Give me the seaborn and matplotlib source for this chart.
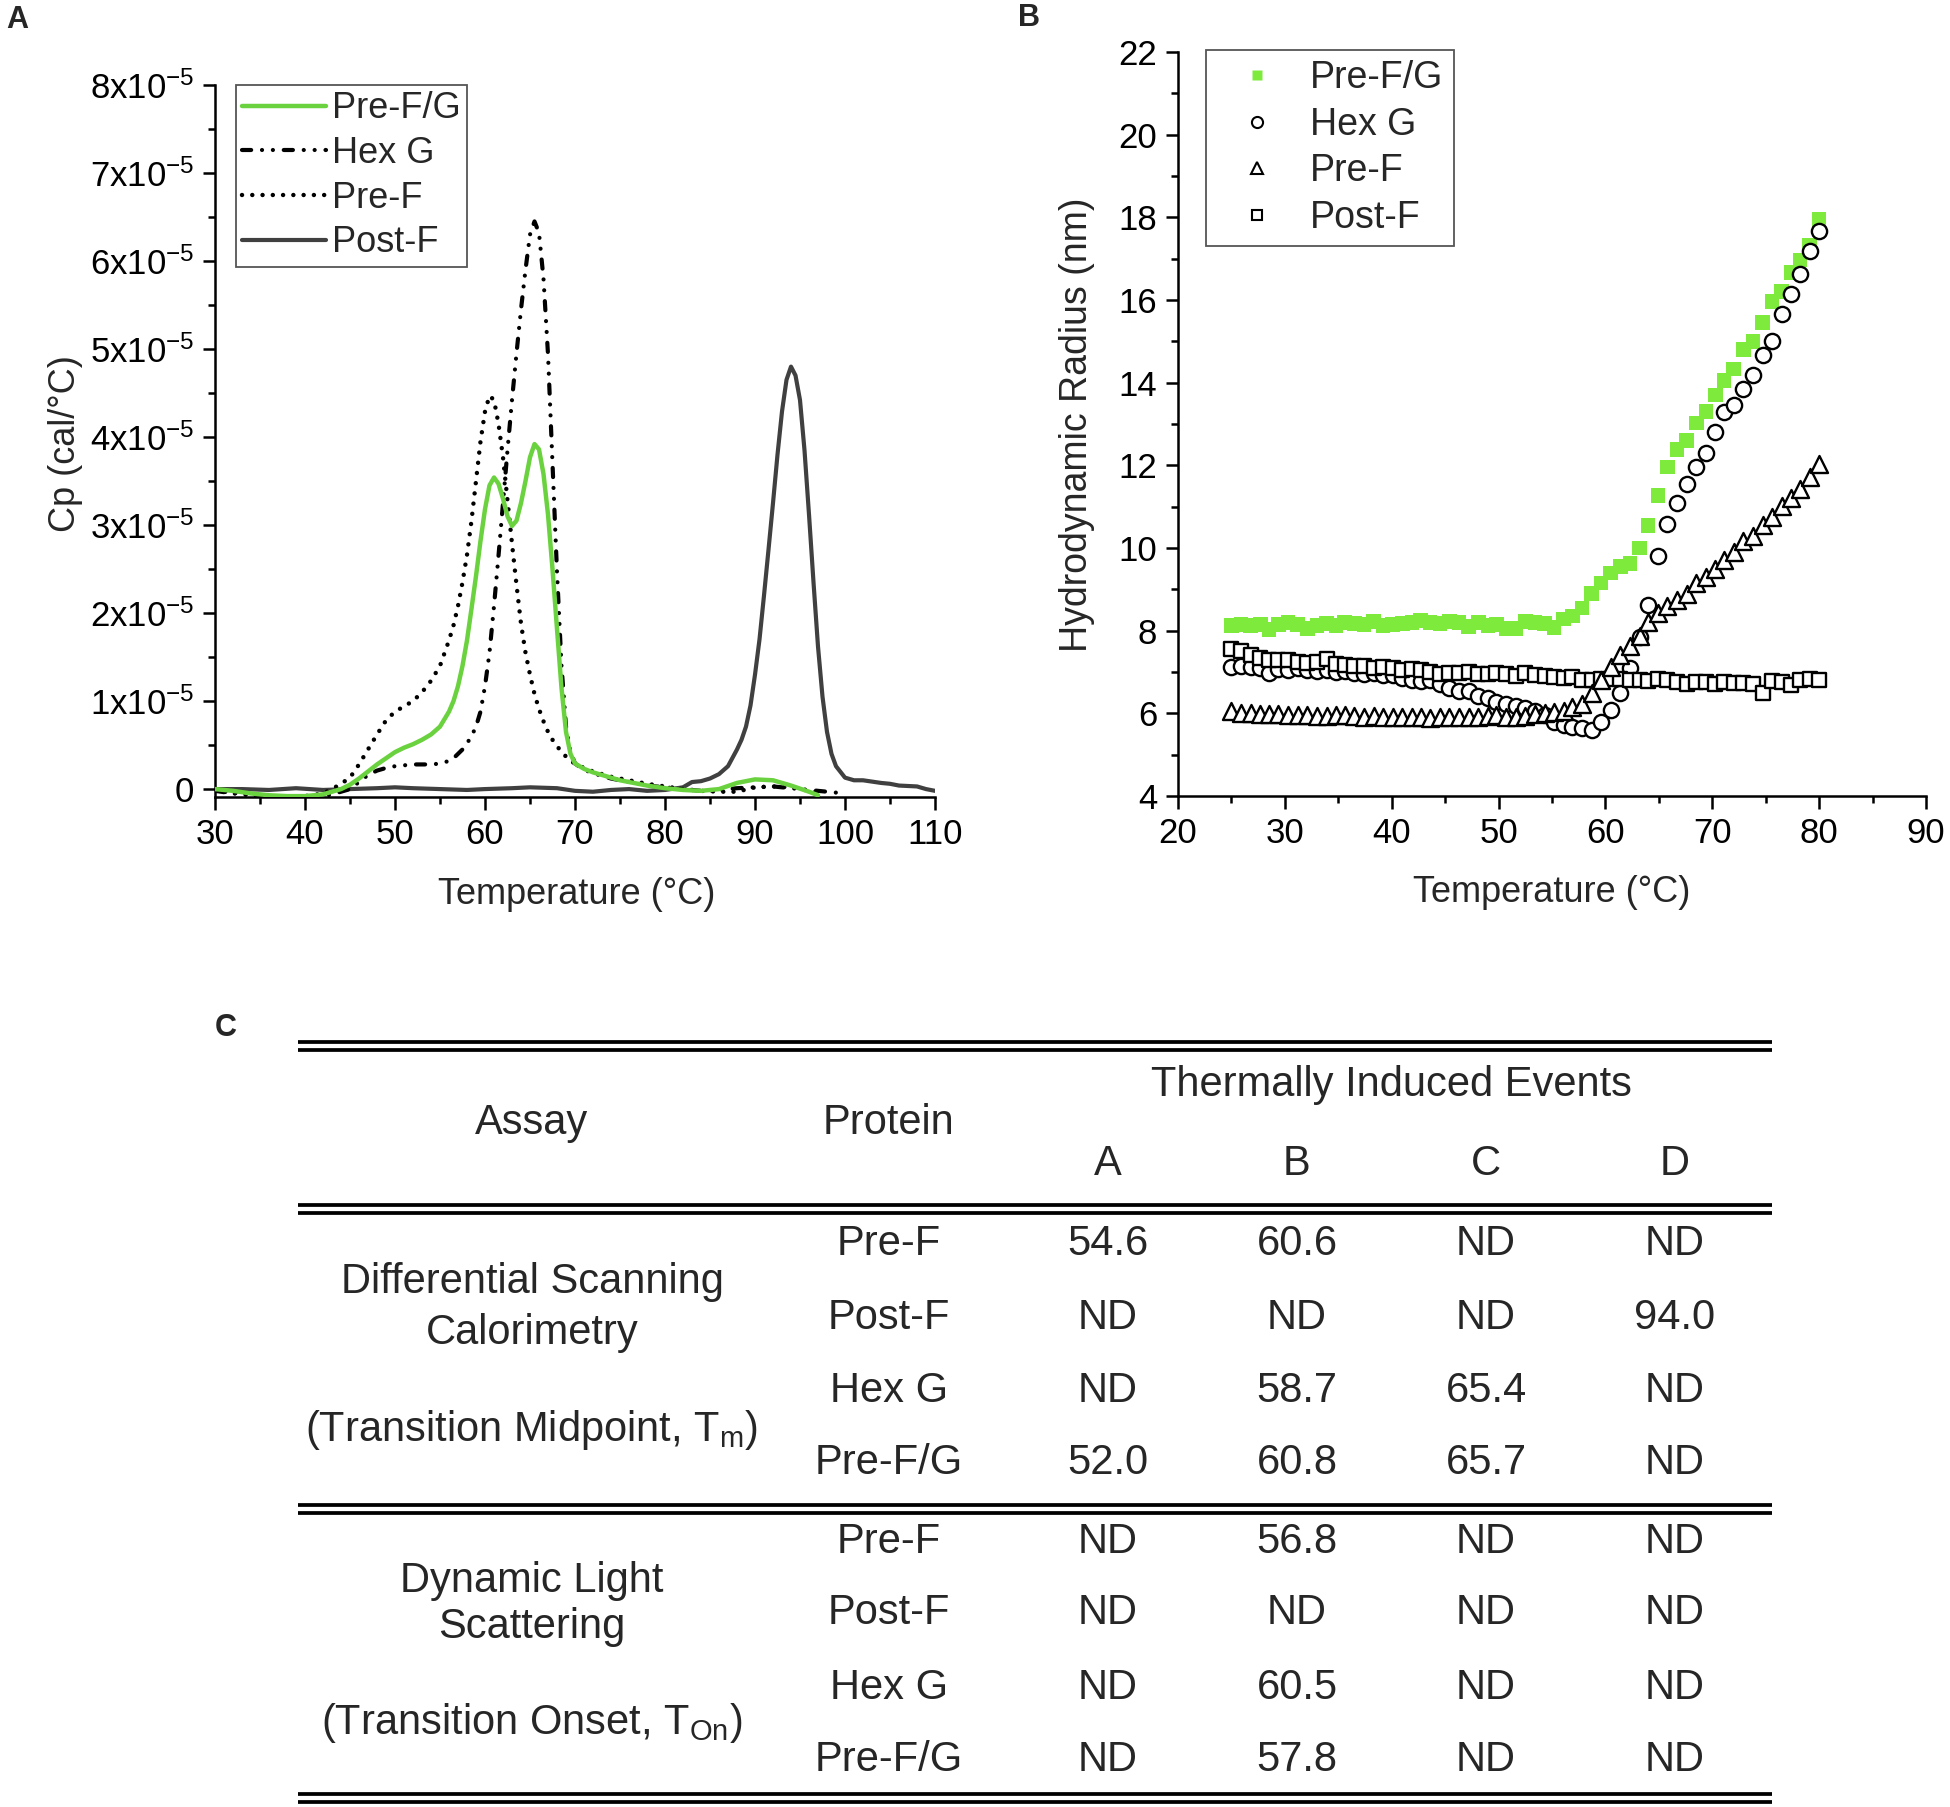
import numpy as np
import pandas as pd
import matplotlib
matplotlib.use("Agg")
import matplotlib.pyplot as plt
import seaborn as sns
from matplotlib.ticker import MultipleLocator, FuncFormatter
from matplotlib.lines import Line2D

# ---------------- Panel A : DSC data (Cp in units of 1e-5 cal/°C) ----------------
dsc_temp = [30, 32, 34, 36, 38, 40, 42, 43, 44, 45, 46, 47, 48, 49, 50, 51, 52, 53, 54, 55, 56,
            56.5, 57, 57.5, 58, 58.5, 59, 59.5, 60, 60.5, 61, 61.5, 62, 62.5, 63, 63.5, 64, 64.5,
            65, 65.5, 66, 66.5, 67, 67.5, 68, 68.5, 69, 69.5, 70, 71, 72, 73, 74, 75, 76, 78, 80,
            82, 84, 86, 88, 90, 92, 94, 96, 97]
cp_pre_fg = [0.0, -0.02, -0.05, -0.07, -0.08, -0.08, -0.06,
             -0.03, 0.0, 0.05, 0.12, 0.2, 0.28, 0.35, 0.42, 0.47, 0.51, 0.56, 0.62, 0.71, 0.88,
             1.0, 1.17, 1.4, 1.69, 2.05, 2.42, 2.82, 3.18, 3.45, 3.54, 3.47, 3.3, 3.1, 2.99, 3.05,
             3.25, 3.5, 3.77, 3.92, 3.86, 3.58, 3.12, 2.5, 1.82, 1.15, 0.65, 0.4,
             0.29, 0.23, 0.19, 0.16, 0.13, 0.1, 0.08,
             0.04, 0.01, -0.01, -0.02, 0.0, 0.07, 0.11, 0.1, 0.04, -0.03, -0.07]
cp_pre_f = [-0.02, -0.04, -0.07, -0.08, -0.09, -0.08, -0.05,
            0.0, 0.06, 0.13, 0.28, 0.45, 0.62, 0.78, 0.88, 0.94, 1.0, 1.1, 1.23, 1.4, 1.69,
            1.86, 2.08, 2.35, 2.66, 3.05, 3.5, 3.95, 4.29, 4.47, 4.42, 4.15, 3.77, 3.28, 2.79, 2.32,
            1.88, 1.55, 1.3, 1.08, 0.91, 0.77, 0.65, 0.56, 0.49, 0.42, 0.37, 0.32,
            0.29, 0.24, 0.2, 0.17, 0.14, 0.12, 0.1,
            0.06, 0.03, 0.0, -0.02, -0.03, -0.03, 0.02, 0.03, 0.02, -0.02, -0.05]
cp_hexg = [-0.02, -0.05, -0.07, -0.08, -0.09, -0.09, -0.08,
           -0.06, -0.03, 0.0, 0.08, 0.16, 0.21, 0.24, 0.26, 0.27, 0.28, 0.28, 0.28, 0.29, 0.32,
           0.35, 0.4, 0.45, 0.52, 0.6, 0.71, 0.88, 1.17, 1.55, 2.08, 2.65, 3.25, 3.85, 4.42, 4.95,
           5.45, 5.9, 6.3, 6.45, 6.32, 5.8, 4.94, 3.7, 2.47, 1.4, 0.71, 0.42,
           0.29, 0.22, 0.18, 0.15, 0.12, 0.1, 0.08,
           0.04, 0.02, 0.0, -0.02, -0.01, 0.01, 0.02, 0.03, 0.01, -0.01, -0.02]
hexg_tail_temp = [98, 99, 99.5]
hexg_tail_cp = [-0.03, -0.04, -0.06]
postf_temp = [30, 33, 36, 39, 42, 45, 48, 50, 52, 55, 58, 60, 63, 65, 68, 70, 72, 74, 76, 78,
              80, 82, 83, 84, 85, 86, 87, 88, 88.5, 89, 89.5, 90, 90.5, 91, 91.5, 92, 92.5, 93,
              93.5, 94, 94.5, 95, 95.5, 96, 96.5, 97, 97.5, 98, 98.5, 99, 100, 101, 102, 104,
              105, 106, 108, 109, 110]
cp_post_f = [0.0, 0.0, -0.01, 0.01, -0.01, 0.0, 0.01, 0.02, 0.01, 0.0, -0.01, 0.0, 0.01, 0.02,
             0.01, -0.02, -0.03, -0.01, 0.0, -0.02, -0.01, 0.02, 0.08, 0.09, 0.12, 0.17, 0.26,
             0.45, 0.56, 0.71, 0.95, 1.3, 1.7, 2.2, 2.72, 3.25, 3.8, 4.29, 4.65, 4.8, 4.7, 4.42,
             3.85, 3.12, 2.35, 1.62, 1.05, 0.65, 0.4, 0.26, 0.13, 0.1, 0.1, 0.07, 0.06, 0.04,
             0.03, 0.0, -0.02]
cp_unit = 1e-5

# ---------------- Panel B : DLS data (hydrodynamic radius, nm) ----------------
dls_temp = [25.0, 25.9, 26.8, 27.7, 28.5, 29.4, 30.3, 31.2, 32.1, 33.0, 33.9, 34.8, 35.6, 36.5,
            37.4, 38.3, 39.2, 40.1, 41.0, 41.9, 42.7, 43.6, 44.5, 45.4, 46.3, 47.2, 48.1, 49.0,
            49.8, 50.7, 51.6, 52.5, 53.4, 54.3, 55.2, 56.1, 56.9, 57.8, 58.7, 59.6, 60.5, 61.4,
            62.3, 63.2, 64.0, 64.9, 65.8, 66.7, 67.6, 68.5, 69.4, 70.3, 71.1, 72.0, 72.9, 73.8,
            74.7, 75.6, 76.5, 77.4, 78.2, 79.1, 80.0]
rh_pre_fg = [8.12, 8.15, 8.12, 8.15, 8.03, 8.15, 8.2, 8.15, 8.05, 8.12, 8.18, 8.12, 8.2, 8.18,
             8.15, 8.22, 8.12, 8.15, 8.18, 8.2, 8.25, 8.2, 8.18, 8.22, 8.2, 8.1, 8.2, 8.12,
             8.15, 8.05, 8.05, 8.22, 8.2, 8.18, 8.08, 8.28, 8.35, 8.55, 8.9, 9.15, 9.4, 9.55,
             9.62, 10.0, 10.55, 11.27, 11.96, 12.38, 12.6, 13.02, 13.3, 13.7, 14.05, 14.33, 14.8,
             15.0, 15.45, 15.96, 16.2, 16.66, 16.97, 17.32, 17.95]
rh_hexg = [7.12, 7.15, 7.13, 7.1, 6.98, 7.08, 7.05, 7.1, 7.05, 7.02, 7.06, 7.0, 7.03, 6.98,
           6.95, 6.97, 6.93, 6.92, 6.85, 6.8, 6.78, 6.8, 6.7, 6.62, 6.55, 6.55, 6.43, 6.38,
           6.28, 6.22, 6.18, 6.12, 6.05, 5.95, 5.8, 5.72, 5.67, 5.65, 5.6, 5.78, 6.08, 6.5,
           7.1, 7.85, 8.62, 9.81, 10.58, 11.09, 11.55, 11.96, 12.31, 12.8, 13.29, 13.45, 13.84,
           14.19, 14.68, 15.02, 15.65, 16.14, 16.62, 17.18, 17.67]
rh_pre_f = [6.06, 6.02, 6.0, 5.99, 5.98, 5.98, 5.97, 5.96, 5.95, 5.94, 5.93, 5.95, 5.96, 5.93,
            5.92, 5.93, 5.9, 5.91, 5.92, 5.9, 5.9, 5.88, 5.9, 5.92, 5.9, 5.91, 5.9, 5.93,
            5.96, 5.92, 5.9, 5.93, 5.98, 6.0, 6.03, 6.06, 6.15, 6.22, 6.48, 6.8, 7.12, 7.41,
            7.62, 7.88, 8.22, 8.42, 8.6, 8.75, 8.88, 9.15, 9.3, 9.5, 9.7, 9.9, 10.16,
            10.3, 10.55, 10.75, 11.02, 11.22, 11.42, 11.72, 12.04]
rh_post_f = [7.55, 7.5, 7.42, 7.35, 7.3, 7.3, 7.28, 7.25, 7.22, 7.25, 7.32, 7.2, 7.18, 7.15,
             7.15, 7.1, 7.12, 7.1, 7.05, 7.07, 7.05, 7.0, 6.95, 6.98, 6.98, 7.0, 6.95, 6.96,
             6.97, 6.95, 6.9, 6.97, 6.92, 6.9, 6.88, 6.85, 6.88, 6.8, 6.8, 6.82, 6.82, 6.82,
             6.8, 6.8, 6.78, 6.82, 6.8, 6.75, 6.72, 6.75, 6.75, 6.72, 6.75, 6.74, 6.73, 6.72,
             6.5, 6.78, 6.75, 6.68, 6.8, 6.82, 6.8]

# ---------------- Panel C : table ----------------
table_events = ["A", "B", "C", "D"]
table_proteins = ["Pre-F", "Post-F", "Hex G", "Pre-F/G"]
dsc_table_values = [["54.6", "60.6", "ND", "ND"],
                    ["ND", "ND", "ND", "94.0"],
                    ["ND", "58.7", "65.4", "ND"],
                    ["52.0", "60.8", "65.7", "ND"]]
dls_table_values = [["ND", "56.8", "ND", "ND"],
                    ["ND", "ND", "ND", "ND"],
                    ["ND", "60.5", "ND", "ND"],
                    ["ND", "57.8", "ND", "ND"]]

# ---------------- style ----------------
sns.set_theme(style="ticks")
plt.rcParams["font.family"] = ["Liberation Sans", "DejaVu Sans"]
plt.rcParams["mathtext.fontset"] = "custom"
plt.rcParams["mathtext.rm"] = "Liberation Sans"
plt.rcParams["mathtext.it"] = "Liberation Sans:italic"
plt.rcParams["mathtext.bf"] = "Liberation Sans:bold"
plt.rcParams["axes.unicode_minus"] = False

GREEN_LINE = "#6BD23F"
GREEN_SQ = "#7DEA3C"
GRAY = "#404040"

W, H = 1950, 1807
fig = plt.figure(figsize=(W / 100, H / 100), dpi=100, facecolor="white")


def frac(l, t, r, b):
    return [l / W, 1 - b / H, (r - l) / W, (b - t) / H]


# table / annotation layer in pixel coordinates
axT = fig.add_axes([0, 0, 1, 1])
axT.set_xlim(0, W)
axT.set_ylim(H, 0)
axT.axis("off")

axA = fig.add_axes(frac(215, 85, 935, 797))
axB = fig.add_axes(frac(1178, 52, 1926, 796))

# ---------------- Panel A ----------------
hexg_ls = (0, (2.2, 2.6, 0.01, 2.6, 0.01, 2.6))
dot_ls = (0, (0.01, 2.3))
sns.lineplot(x=np.array(postf_temp), y=np.array(cp_post_f) * cp_unit, ax=axA, color=GRAY,
             linewidth=3.0, sort=False, zorder=2)
sns.lineplot(x=np.array(dsc_temp + hexg_tail_temp), y=np.array(cp_hexg + hexg_tail_cp) * cp_unit,
             ax=axA, color="black", linewidth=3.0, linestyle=hexg_ls, dash_capstyle="round",
             sort=False, zorder=3)
sns.lineplot(x=np.array(dsc_temp), y=np.array(cp_pre_f) * cp_unit, ax=axA, color="black",
             linewidth=3.2, linestyle=dot_ls, dash_capstyle="round", sort=False, zorder=4)
sns.lineplot(x=np.array(dsc_temp), y=np.array(cp_pre_fg) * cp_unit, ax=axA, color=GREEN_LINE,
             linewidth=3.2, sort=False, zorder=5)

axA.set_xlim(30, 110)
axA.set_ylim(-0.09e-5, 8e-5)
axA.xaxis.set_major_locator(MultipleLocator(10))
axA.xaxis.set_minor_locator(MultipleLocator(5))
axA.yaxis.set_major_locator(MultipleLocator(1e-5))
axA.yaxis.set_minor_locator(MultipleLocator(0.5e-5))


def cp_fmt(v, pos):
    n = int(round(v / cp_unit))
    if n == 0:
        return "0"
    return r"$%d\mathrm{x}10^{-5}$" % n


axA.yaxis.set_major_formatter(FuncFormatter(cp_fmt))
axA.set_xlabel("Temperature (°C)", fontsize=26)
axA.set_ylabel("Cp (cal/°C)", fontsize=26)
axA.xaxis.set_label_coords(0.503, -0.137)
axA.yaxis.set_label_coords(-0.208, 0.496)
axA.xaxis.label.set_va("center")
axA.yaxis.label.set_va("center")

handlesA = [Line2D([], [], color=GREEN_LINE, lw=3.2),
            Line2D([], [], color="black", lw=3.0, linestyle=hexg_ls, dash_capstyle="round"),
            Line2D([], [], color="black", lw=3.2, linestyle=dot_ls, dash_capstyle="round"),
            Line2D([], [], color=GRAY, lw=3.0)]
legA = axA.legend(handlesA, ["Pre-F/G", "Hex G", "Pre-F", "Post-F"], loc="upper left",
                  bbox_to_anchor=(0.029, 1.0), borderaxespad=0, frameon=True, fancybox=False,
                  edgecolor="#555555", framealpha=1, fontsize=26, handlelength=2.33,
                  handletextpad=0.17, labelspacing=0.27, borderpad=0.17)
legA.get_frame().set_linewidth(1.3)

# ---------------- Panel B ----------------
sns.scatterplot(x=dls_temp, y=rh_pre_fg, ax=axB, marker="s", s=110, color=GREEN_SQ,
                edgecolor="none", linewidth=0, zorder=2)
sns.scatterplot(x=dls_temp, y=rh_hexg, ax=axB, marker="o", s=120, color="black",
                facecolor="white", edgecolor="black", linewidth=1.7, zorder=3)
sns.scatterplot(x=dls_temp, y=rh_post_f, ax=axB, marker="s", s=105, color="black",
                facecolor="white", edgecolor="black", linewidth=1.7, zorder=4)
sns.scatterplot(x=dls_temp, y=rh_pre_f, ax=axB, marker="^", s=150, color="black",
                facecolor="white", edgecolor="black", linewidth=1.7, zorder=5)

axB.set_xlim(20, 90)
axB.set_ylim(4, 22)
axB.xaxis.set_major_locator(MultipleLocator(10))
axB.xaxis.set_minor_locator(MultipleLocator(5))
axB.yaxis.set_major_locator(MultipleLocator(2))
axB.yaxis.set_minor_locator(MultipleLocator(1))
axB.set_xlabel("Temperature (°C)", fontsize=26)
axB.set_ylabel("Hydrodynamic Radius (nm)", fontsize=27)
axB.xaxis.set_label_coords(0.5, -0.1297)
axB.yaxis.set_label_coords(-0.135, 0.4987)
axB.xaxis.label.set_va("center")
axB.yaxis.label.set_va("center")

handlesB = [Line2D([], [], ls="none", marker="s", ms=7.5, mfc=GREEN_SQ, mec="none"),
            Line2D([], [], ls="none", marker="o", ms=8.0, mfc="white", mec="black", mew=1.5),
            Line2D([], [], ls="none", marker="^", ms=8.5, mfc="white", mec="black", mew=1.5),
            Line2D([], [], ls="none", marker="s", ms=7.5, mfc="white", mec="black", mew=1.5)]
legB = axB.legend(handlesB, ["Pre-F/G", "Hex G", "Pre-F", "Post-F"], loc="upper left",
                  bbox_to_anchor=(0.037, 1.003), borderaxespad=0, frameon=True, fancybox=False,
                  edgecolor="#555555", framealpha=1, fontsize=27, handlelength=2.2,
                  handletextpad=0.3, labelspacing=0.28, borderpad=0.28)
legB.get_frame().set_linewidth(1.3)

for ax in (axA, axB):
    sns.despine(ax=ax)
    for side in ("left", "bottom"):
        ax.spines[side].set_linewidth(1.8)
        ax.spines[side].set_color("black")
    ax.tick_params(which="both", direction="out", width=1.8, colors="black",
                   left=True, bottom=True, top=False, right=False)
    ax.tick_params(which="major", length=9, pad=6, labelsize=25)
    ax.tick_params(which="minor", length=5)
    ax.grid(False)
    ax.set_facecolor("none")

# ---------------- Panel letters ----------------
for lab, (px, py) in {"A": (17, 20), "B": (1029, 18), "C": (226, 1028)}.items():
    axT.text(px, py, lab, fontsize=22, fontweight="bold", ha="center", va="center")

# ---------------- Panel C : table ----------------
tx0, tx1 = 298, 1772
double_rules = [1042, 1205, 1505, 1794]
for y in double_rules:
    axT.hlines([y, y + 8], tx0, tx1, colors="black", linewidth=2.7)

fs_t = 30
col_assay, col_prot = 532, 889
col_events = [1108, 1297, 1486, 1675]
axT.text(1391, 1085, "Thermally Induced Events", fontsize=fs_t, ha="center", va="center")
axT.text(col_assay, 1123, "Assay", fontsize=fs_t, ha="center", va="center")
axT.text(col_prot, 1123, "Protein", fontsize=fs_t, ha="center", va="center")
for x, ev in zip(col_events, table_events):
    axT.text(x, 1164, ev, fontsize=fs_t, ha="center", va="center")

dsc_rows_y = [1244, 1318, 1391, 1463]
dls_rows_y = [1542, 1613, 1688, 1760]
for rows_y, vals in ((dsc_rows_y, dsc_table_values), (dls_rows_y, dls_table_values)):
    for y, prot, rowvals in zip(rows_y, table_proteins, vals):
        axT.text(col_prot, y, prot, fontsize=fs_t, ha="center", va="center")
        for x, v in zip(col_events, rowvals):
            axT.text(x, y, v, fontsize=fs_t, ha="center", va="center")

axT.text(col_assay, 1282, "Differential Scanning", fontsize=fs_t, ha="center", va="center")
axT.text(col_assay, 1333, "Calorimetry", fontsize=fs_t, ha="center", va="center")
axT.text(col_assay, 1430, r"(Transition Midpoint, T$_{\mathrm{m}}$)", fontsize=fs_t,
         ha="center", va="center")
axT.text(col_assay, 1581, "Dynamic Light", fontsize=fs_t, ha="center", va="center")
axT.text(col_assay, 1627, "Scattering", fontsize=fs_t, ha="center", va="center")
axT.text(col_assay, 1723, r"(Transition Onset, T$_{\mathrm{On}}$)", fontsize=fs_t,
         ha="center", va="center")

fig.savefig("out.png", dpi=100, facecolor="white")
